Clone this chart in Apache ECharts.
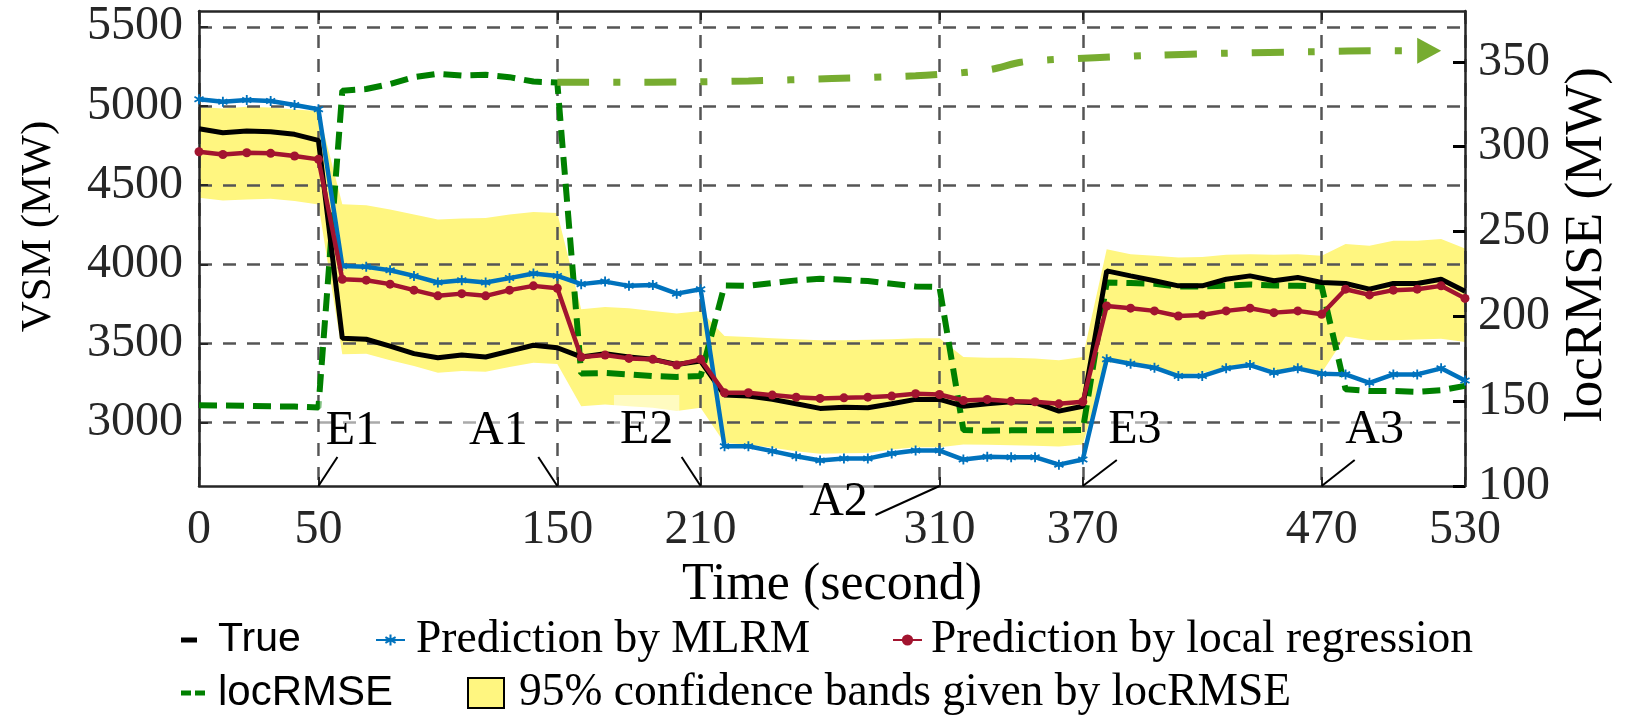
<!DOCTYPE html>
<html><head><meta charset="utf-8">
<script src="https://cdn.jsdelivr.net/npm/echarts@6/dist/echarts.min.js"></script>
<style>html,body{margin:0;padding:0;background:#fff}#c{width:1626px;height:716px}</style>
</head><body><div id="c"></div>
<script>
// ---------------- data ----------------
const time = [0,10,20,30,40,50,60,70,80,90,100,110,120,130,140,150,160,170,180,190,200,210,220,230,240,250,260,270,280,290,300,310,320,330,340,350,360,370,380,390,400,410,420,430,440,450,460,470,480,490,500,510,520,530];
const trueVSM = [4856,4831,4842,4838,4821,4783, 3533,3527,3484,3436,3410,3427,3415,3452,3489,3473, 3415,3436,3415,3400,3368,3389, 3174,3168,3147,3119,3090,3098,3094,3119,3147,3147, 3104,3119,3132,3126,3073,3104, 3959,3927,3896,3864,3864,3906,3927,3896,3917,3885, 3879,3843,3879,3879,3906,3830];
const mlrm = [5042,5027,5038,5032,5006,4979, 3990,3984,3963,3927,3885,3900,3885,3913,3942,3927, 3875,3891,3864,3870,3815,3843, 2851,2851,2820,2788,2761,2773,2773,2805,2824,2824, 2767,2785,2782,2782,2735,2767, 3400,3372,3347,3294,3294,3343,3364,3315,3343,3309, 3305,3252,3305,3305,3343,3267];
const localReg = [4711,4694,4705,4701,4684,4663, 3906,3900,3875,3837,3801,3815,3801,3837,3864,3849, 3415,3427,3406,3400,3364,3400, 3189,3189,3174,3161,3153,3157,3161,3168,3183,3178, 3140,3147,3136,3132,3119,3132, 3737,3723,3706,3674,3680,3706,3723,3695,3706,3685, 3843,3807,3837,3843,3864,3785];
const locRMSE = [147.6,147.5,147.3,147,146.8,146.3, 333,334,337,341,343,342,342.4,341,338.4,337.8, 166.3,166.6,165.8,164.8,164.3,164.8, 218.2,218,219.6,221.2,222.2,221.6,220.8,219.2,217.6,217.3, 133,132.5,132.8,132.8,132.8,133, 220,219.6,219.2,217.6,217.6,218,218.8,218.2,218,217.6, 157,156,156,155.5,156.5,159];
const bandUpper = [4994,4985,4995,4990,4978,4968, 4380,4373,4346,4315,4283,4289,4293,4315,4331,4325, 3716,3731,3723,3706,3689,3706, 3547,3541,3533,3527,3520,3520,3524,3527,3533,3533, 3415,3410,3410,3405,3395,3415, 4096,4064,4054,4043,4047,4060,4064,4060,4064,4054, 4128,4117,4149,4149,4160,4100];
const bandLower = [4420,4403,4410,4415,4400,4378, 3432,3436,3394,3358,3315,3326,3322,3351,3379,3370, 3104,3115,3104,3094,3073,3094, 2872,2862,2841,2820,2803,2807,2809,2830,2845,2845, 2862,2860,2858,2855,2850,2862, 3380,3380,3358,3305,3313,3352,3382,3330,3348,3316, 3545,3520,3520,3525,3530,3510];
const trendTime = [150,190,230,265,300,320,332,344,356,375,400,430,466,490,515];
const trendRMSE = [338,338,338.8,340.2,341.8,343.7,345.7,349.8,351.2,352.5,353.9,355.1,356,356.5,356.5];
const xTicks = [0,50,150,210,310,370,470,530];
const yTicksLeft = [3000,3500,4000,4500,5000,5500];
const yTicksRight = [100,150,200,250,300,350];
const eventLabels = ['E1','A1','E2','A2','E3','A3'];
const eventTimes = [50,150,210,310,370,470];
const names = {
  t:'True', m:'Prediction by MLRM', l:'Prediction by local regression',
  r:'locRMSE', b:'95% confidence bands given by locRMSE'
};

// ---------------- styling ----------------
const serif = 'Liberation Serif', sans = 'Liberation Sans';
const axisColor = '#262626';
const yL = [2600, 5600], yR = [100, 380];
const asterisk = 'path://M-0.7,-4L0.7,-4L0.7,4L-0.7,4Z M3.114,-2.606L3.814,-1.394L-3.114,2.606L-3.814,1.394Z M3.814,1.394L3.114,2.606L-3.814,-1.394L-3.114,-2.606Z';
// label offsets (px) relative to the axis point of each event
const annLayout = {
  E1:{line:[19,-29], text:[34,-55]}, A1:{line:[-19,-29], text:[-59,-55]},
  E2:{line:[-19,-29], text:[-54,-56]}, A2:{line:[-64,29], text:[-101,16]},
  E3:{line:[34,-26], text:[52,-56]}, A3:{line:[33,-26], text:[53,-56]}
};

const pairs = arr => time.map((t,i)=>[t, arr[i]]);
const frameAxis = {
  axisLine:{show:true, onZero:false, lineStyle:{color:axisColor, width:2.5}},
};
const plain = v => String(v);
const tickFont = {fontFamily:serif, fontSize:48, color:axisColor, formatter:plain};
const gridLine = {show:true, lineStyle:{type:[13,11], color:'#555', width:2.5}};

const chart = echarts.init(document.getElementById('c'));
const legendBase = (name, left, top, w, h, font, size, padLeft) => ({
  data:[name], left:left, top:top, padding:0, itemWidth:w, itemHeight:h, selectedMode:false,
  textStyle:{fontFamily:font, fontSize:size, lineHeight:50, color:'#000', padding:[0,0,0,padLeft]}
});

chart.setOption({
  animation:false,
  backgroundColor:'#fff',
  grid:{left:199, right:161, top:11, bottom:230, outerBoundsMode:'none'},
  xAxis:[
    Object.assign({type:'value', min:0, max:530, position:'bottom', z:1,
      axisTick:{show:true, inside:true, length:9, customValues:xTicks, lineStyle:{color:axisColor, width:2}},
      axisLabel:Object.assign({customValues:xTicks, margin:20}, tickFont),
      splitLine:gridLine,
      name:'Time (second)', nameLocation:'middle', nameGap:60,
      nameTextStyle:{fontFamily:serif, fontSize:52, color:'#000'}}, frameAxis),
    Object.assign({type:'value', min:0, max:530, position:'top', z:1,
      axisTick:{show:true, inside:true, length:9, customValues:xTicks, lineStyle:{color:axisColor, width:2}},
      axisLabel:{show:false}, splitLine:{show:false}}, frameAxis)
  ],
  yAxis:[
    Object.assign({type:'value', min:yL[0], max:yL[1], position:'left', z:1,
      axisTick:{show:true, inside:true, length:9, customValues:yTicksLeft, lineStyle:{color:axisColor, width:2}},
      axisLabel:Object.assign({customValues:yTicksLeft, margin:16}, tickFont),
      splitLine:gridLine,
      name:'VSM (MW)', nameLocation:'middle', nameGap:139, nameRotate:90,
      nameTextStyle:{fontFamily:serif, fontSize:43, color:'#000', padding:[0,0,0,44]}}, frameAxis),
    Object.assign({type:'value', min:yR[0], max:yR[1], position:'right', z:1,
      axisTick:{show:true, inside:true, length:12, customValues:yTicksRight, lineStyle:{color:'#000', width:3}},
      axisLabel:Object.assign({customValues:yTicksRight, margin:13}, tickFont),
      splitLine:{show:false},
      name:'locRMSE (MW)', nameLocation:'middle', nameGap:82, nameRotate:90,
      nameTextStyle:{fontFamily:serif, fontSize:53, color:'#000', padding:[0,0,0,8]}}, frameAxis)
  ],
  legend:[
    legendBase({name:names.t, icon:'rect'}, 181, 615, 16, 5, sans, 41, 16),
    legendBase(names.m, 375, 615, 29, 14, serif, 45.5, 6),
    legendBase(names.l, 892, 615, 29, 14, serif, 45.5, 4),
    legendBase({name:names.r, icon:'path://M0,0H10V5H0Z M14,0H24V5H14Z'}, 181, 668, 24, 5, sans, 42, 8),
    legendBase({name:names.b, icon:'rect', itemStyle:{color:'#fff680', borderColor:'#000', borderWidth:2}}, 467, 668, 36, 30, serif, 45.5, 10)
  ],
  series:[
    {name:names.b, type:'custom', z:0, xAxisIndex:0, yAxisIndex:0,
      itemStyle:{color:'#fff680'},
      data: time.map((t,i)=>[t, bandLower[i], bandUpper[i]]),
      encode:{x:0, y:[1,2]},
      renderItem:function(params, api){
        if (params.dataIndex !== 0) return null;
        const pts = [];
        for (let i=0;i<time.length;i++) pts.push(api.coord([time[i], bandUpper[i]]));
        for (let i=time.length-1;i>=0;i--) pts.push(api.coord([time[i], bandLower[i]]));
        return {type:'polygon', shape:{points:pts}, style:{fill:'#fff680'}};
      }},
    {name:names.r, type:'line', z:3, yAxisIndex:1, data:pairs(locRMSE), symbol:'none',
      lineStyle:{color:'#008000', width:6, type:[18,9]}, itemStyle:{color:'#008000'}},
    {name:'trend', type:'line', z:3, yAxisIndex:1, symbol:'none', smooth:0.3,
      data: trendTime.map((t,i)=> i===trendTime.length-1 ?
        {value:[t, trendRMSE[i]], symbol:'triangle', symbolSize:[26,24], symbolRotate:-90} : [t, trendRMSE[i]]),
      lineStyle:{color:'#77AC30', width:7, type:[32,24,7,24]}, itemStyle:{color:'#77AC30'}},
    {name:names.t, type:'line', z:4, data:pairs(trueVSM), symbol:'none',
      lineStyle:{color:'#000', width:5}, itemStyle:{color:'#000'}},
    {name:names.m, type:'line', z:5, data:pairs(mlrm), symbol:asterisk, symbolSize:10, showAllSymbol:true,
      lineStyle:{color:'#0072BD', width:4.5}, itemStyle:{color:'#0072BD'}},
    {name:names.l, type:'line', z:6, data:pairs(localReg), symbol:'circle', symbolSize:9, showAllSymbol:true,
      lineStyle:{color:'#A2142F', width:4.5}, itemStyle:{color:'#A2142F'}}
  ]
});

// event annotations positioned through the axis scales
const graphics = [];
eventLabels.forEach((lab, i) => {
  const p = chart.convertToPixel({xAxisIndex:0, yAxisIndex:0}, [eventTimes[i], yL[0]]);
  const L = annLayout[lab];
  graphics.push({type:'text', z:90, x:p[0]+L.text[0], y:p[1]+L.text[1],
    style:{text:lab, fontFamily:serif, fontSize:48, fill:'#000', align:'center', verticalAlign:'middle',
      backgroundColor:'rgba(255,255,255,0.5)', padding:[12,6,10,6]}});
  graphics.push({type:'line', z:91, shape:{x1:p[0], y1:p[1], x2:p[0]+L.line[0], y2:p[1]+L.line[1]},
    style:{stroke:'#000', lineWidth:2}});
});
chart.setOption({graphic:graphics});
</script></body></html>
